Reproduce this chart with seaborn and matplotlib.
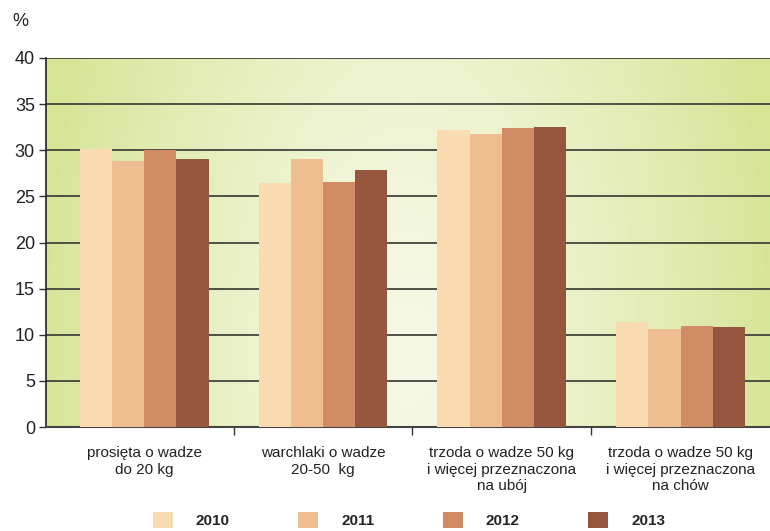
import numpy as np
import pandas as pd
import seaborn as sns
import matplotlib.pyplot as plt
from matplotlib.patches import Patch

categories = [
    "prosięta o wadze\ndo 20 kg",
    "warchlaki o wadze\n20-50  kg",
    "trzoda o wadze 50 kg\ni więcej przeznaczona\nna ubój",
    "trzoda o wadze 50 kg\ni więcej przeznaczona\nna chów",
]
years = ["2010", "2011", "2012", "2013"]
v2010 = [30.1, 26.4, 32.2, 11.4]
v2011 = [28.8, 29.1, 31.8, 10.6]
v2012 = [30.0, 26.6, 32.4, 11.0]
v2013 = [29.1, 27.9, 32.5, 10.8]
colors = ["#f8dbb0", "#eebe90", "#d18c65", "#96563d"]

rows = []
for year, vals in zip(years, [v2010, v2011, v2012, v2013]):
    for cat, v in zip(categories, vals):
        rows.append({"kategoria": cat, "rok": year, "wartosc": v})
df = pd.DataFrame(rows)

sns.set_style("white")
plt.rcParams["font.family"] = ["Liberation Sans", "DejaVu Sans"]

fig = plt.figure(figsize=(7.7, 5.31), dpi=100)
ax = fig.add_axes([46 / 770, 1 - 427 / 531, 724 / 770, 369 / 531])

# gradient background: green at the sides, pale in the middle
gx, gy = np.meshgrid(np.linspace(0, 1, 400), np.linspace(0, 1, 200))
r = np.sqrt(((gx - 0.5) / 0.52) ** 2 + ((gy - 0.2) / 2.0) ** 2)
r = np.clip(r, 0, 1) ** 1.3
c_in = np.array([0xf6, 0xf9, 0xe6]) / 255
c_out = np.array([0xd6, 0xe4, 0x95]) / 255
img = c_in[None, None, :] * (1 - r[..., None]) + c_out[None, None, :] * r[..., None]
ax.imshow(img, extent=[0, 1, 0, 1], transform=ax.transAxes, aspect="auto",
          origin="lower", zorder=0)

sns.barplot(data=df, x="kategoria", y="wartosc", hue="rok", palette=colors,
            saturation=1, width=0.72, ax=ax, legend=False, zorder=3,
            edgecolor="none", linewidth=0)

ax.set_xlim(-0.55, 3.5)
ax.set_ylim(0, 40)
ax.set_yticks(np.arange(0, 41, 5))
ax.set_yticklabels([str(t) for t in range(0, 41, 5)], fontsize=13)
for y in range(5, 41, 5):
    ax.axhline(y, color="#44443c", lw=1.3, zorder=1)

# ticks at category boundaries, labels at centres
ax.set_xticks([0.5, 1.5, 2.5])
ax.set_xticklabels([])
ax.set_xticks(range(4), minor=True)
ax.set_xticklabels(categories, minor=True, fontsize=11, linespacing=1.2,
                   color="#222222")
ax.tick_params(axis="x", which="major", direction="out", length=6, width=1,
               color="#333333", bottom=True)
ax.tick_params(axis="x", which="minor", length=0, pad=14)
ax.tick_params(axis="y", direction="out", length=5, width=1, color="#333333",
               left=True, pad=3, labelcolor="#222222")

ax.set_xlabel("")
ax.set_ylabel("")
for s in ["top", "right"]:
    ax.spines[s].set_visible(False)
ax.spines["left"].set_color("#222222")
ax.spines["bottom"].set_color("#444444")
ax.spines["left"].set_linewidth(1.2)
ax.spines["bottom"].set_linewidth(1.5)

fig.text(12 / 770, 1 - 22 / 531, "%", fontsize=13, va="center", color="#222222")

handles = [Patch(facecolor=c, edgecolor="none") for c in colors]
leg = fig.legend(handles, years, loc="center", ncol=4,
                 bbox_to_anchor=(409 / 770, 1 - 520 / 531), frameon=False,
                 handlelength=1.3, handleheight=1.3, handletextpad=1.5,
                 columnspacing=4.5, prop={"weight": "bold", "size": 11})

fig.savefig("out.png", dpi=100)
